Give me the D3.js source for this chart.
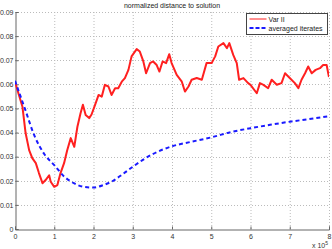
<!DOCTYPE html>
<html>
<head>
<meta charset="utf-8">
<script src="https://cdn.jsdelivr.net/npm/d3@7"></script>
<style>
    body { margin: 0; background: #fff; }
    svg { display: block; font-family: "Liberation Sans", Arial, sans-serif; }
</style>
</head>
<body>
<div id="chart"></div>
<script>
// x values are in units of 1e5 iterations
const xTicks = [0, 1, 2, 3, 4, 5, 6, 7, 8]
const yTicks = [0, 0.01, 0.02, 0.03, 0.04, 0.05, 0.06, 0.07, 0.08, 0.09]

const varT = [0, 0.1, 0.19, 0.27, 0.36, 0.44, 0.53, 0.61, 0.7, 0.78, 0.87, 0.91, 1.0, 1.08, 1.16, 1.25,
    1.33, 1.42, 1.51, 1.59, 1.67, 1.73, 1.8, 1.89, 1.95, 2.04, 2.13, 2.21, 2.29, 2.38, 2.46, 2.55, 2.63,
    2.72, 2.8, 2.89, 2.97, 3.1, 3.18, 3.27, 3.34, 3.44, 3.52, 3.61, 3.68, 3.76, 3.85, 3.93, 3.99, 4.12,
    4.25, 4.33, 4.42, 4.5, 4.63, 4.76, 4.88, 5.01, 5.1, 5.18, 5.31, 5.4, 5.46, 5.56, 5.65, 5.71, 5.82,
    5.94, 6.0, 6.16, 6.24, 6.33, 6.45, 6.54, 6.67, 6.79, 6.88, 7.0, 7.13, 7.22, 7.3, 7.39, 7.47, 7.56,
    7.66, 7.77, 7.85, 7.94, 7.98, 8.0]
const varValues = [0.0611, 0.0556, 0.0507, 0.0398, 0.0327, 0.0294, 0.0273, 0.0232, 0.019, 0.0203,
    0.0223, 0.0196, 0.0175, 0.0182, 0.0232, 0.0273, 0.0327, 0.0377, 0.0341, 0.0424, 0.048, 0.0515,
    0.0473, 0.046, 0.0475, 0.0515, 0.0556, 0.0549, 0.0598, 0.0591, 0.0556, 0.0584, 0.0584, 0.0611,
    0.0626, 0.066, 0.0716, 0.0746, 0.0736, 0.0695, 0.0646, 0.0688, 0.0695, 0.068, 0.0653, 0.0695,
    0.0688, 0.0725, 0.0688, 0.0639, 0.0611, 0.057, 0.0591, 0.0619, 0.0626, 0.0619, 0.0688, 0.0688,
    0.0716, 0.0757, 0.0771, 0.075, 0.0771, 0.0722, 0.0688, 0.0619, 0.0626, 0.0605, 0.0598, 0.0563,
    0.0605, 0.0598, 0.0584, 0.0619, 0.0598, 0.0605, 0.0646, 0.0626, 0.0605, 0.0584, 0.0619, 0.0646,
    0.0674, 0.0646, 0.066, 0.0667, 0.068, 0.068, 0.0646, 0.063]

const avgT = [0, 0.25, 0.5, 0.75, 1.0, 1.25, 1.5, 1.75, 2.0, 2.25, 2.5, 2.75, 3.0, 3.5, 4.0, 4.5,
    5.0, 5.5, 6.0, 6.5, 7.0, 7.5, 8.0]
const avgValues = [0.0615, 0.050, 0.0385, 0.031, 0.0265, 0.0218, 0.019, 0.0175, 0.0172, 0.0182,
    0.020, 0.0228, 0.0258, 0.031, 0.0343, 0.0362, 0.038, 0.0402, 0.0418, 0.0432, 0.0445, 0.0456, 0.0468]

const seriesNames = ['Var II', 'averaged iterates']

const width = 332, height = 249
const margin = {left: 15, top: 12, right: 329, bottom: 229}

const svg = d3.select('#chart').append('svg')
    .attr('width', width)
    .attr('height', height)

const x_scale = d3.scaleLinear().domain([0, 8]).range([margin.left, margin.right])
const y_scale = d3.scaleLinear().domain([0, 0.09]).range([margin.bottom, margin.top])

// grid
const grid = svg.append('g').attr('class', 'grid')
grid.selectAll('line.vgrid')
    .data(xTicks.slice(1))
    .join('line')
    .attr('x1', d => x_scale(d) + 0.5)
    .attr('x2', d => x_scale(d) + 0.5)
    .attr('y1', margin.top)
    .attr('y2', margin.bottom)
    .style('stroke', '#bbb')
    .style('stroke-dasharray', '1,2')
grid.selectAll('line.hgrid')
    .data(yTicks.slice(1))
    .join('line')
    .attr('x1', margin.left)
    .attr('x2', margin.right)
    .attr('y1', d => Math.round(y_scale(d)) + 0.5)
    .attr('y2', d => Math.round(y_scale(d)) + 0.5)
    .style('stroke', '#bbb')
    .style('stroke-dasharray', '1,2')

// axes
const xAxis = d3.axisBottom(x_scale).tickValues(xTicks).tickSize(-3).tickPadding(5).tickFormat(d3.format('d'))
const yAxis = d3.axisLeft(y_scale).tickValues(yTicks).tickSize(-3).tickPadding(2)
    .tickFormat(d => d === 0 ? '0' : d3.format('.2f')(d))

const gx = svg.append('g')
    .attr('transform', `translate(0, ${margin.bottom + 0.5})`)
    .call(xAxis)
const gy = svg.append('g')
    .attr('transform', `translate(${margin.left + 0.5}, 0)`)
    .call(yAxis)

for (const g of [gx, gy]) {
    g.select('.domain').style('stroke', '#666')
    g.selectAll('.tick line').style('stroke', '#666')
    g.selectAll('.tick text').style('font-size', '7px').style('fill', '#333')
}

// x 10^5 multiplier
const mult = svg.append('text')
    .attr('x', 312)
    .attr('y', 248)
    .style('font-size', '7px')
    .style('fill', '#333')
mult.append('tspan').text('x 10')
mult.append('tspan').attr('dy', -3).style('font-size', '5px').text('5')

// title
svg.append('text')
    .attr('x', (margin.left + margin.right) / 2)
    .attr('y', 8)
    .style('text-anchor', 'middle')
    .style('font-size', '7px')
    .style('fill', '#222')
    .text('normalized distance to solution')

// lines
const clip = svg.append('clipPath').attr('id', 'plot-clip')
clip.append('rect')
    .attr('x', margin.left)
    .attr('y', margin.top)
    .attr('width', margin.right - margin.left)
    .attr('height', margin.bottom - margin.top)

const lineGen = d3.line()
    .x(d => x_scale(d[0]))
    .y(d => y_scale(d[1]))

const varData = varT.map((t, i) => [t, varValues[i]])
const avgData = avgT.map((t, i) => [t, avgValues[i]])

const plot = svg.append('g').attr('clip-path', 'url(#plot-clip)')
plot.append('path')
    .datum(varData)
    .attr('d', lineGen)
    .style('fill', 'none')
    .style('stroke', '#ff2020')
    .style('stroke-width', 2)
    .style('stroke-linejoin', 'round')

plot.append('path')
    .datum(avgData)
    .attr('d', lineGen.curve(d3.curveMonotoneX))
    .style('fill', 'none')
    .style('stroke', '#1a1aff')
    .style('stroke-width', 2)
    .style('stroke-dasharray', '4,3')

// legend
const legend = svg.append('g').attr('transform', 'translate(246.5, 13.5)')
legend.append('rect')
    .attr('width', 81)
    .attr('height', 21)
    .style('fill', '#fff')
    .style('stroke', '#444')

const legendStyles = [
    {color: '#ff2020', dash: null, width: 1},
    {color: '#1a1aff', dash: '4,2', width: 2}
]
seriesNames.forEach((name, i) => {
    const yPos = 5.5 + i * 9
    legend.append('line')
        .attr('x1', 3)
        .attr('x2', 20)
        .attr('y1', yPos)
        .attr('y2', yPos)
        .style('stroke', legendStyles[i].color)
        .style('stroke-width', legendStyles[i].width)
        .style('stroke-dasharray', legendStyles[i].dash)
    legend.append('text')
        .attr('x', 22)
        .attr('y', yPos + 2.5)
        .style('font-size', '7px')
        .style('fill', '#222')
        .text(name)
})
</script>
</body>
</html>
